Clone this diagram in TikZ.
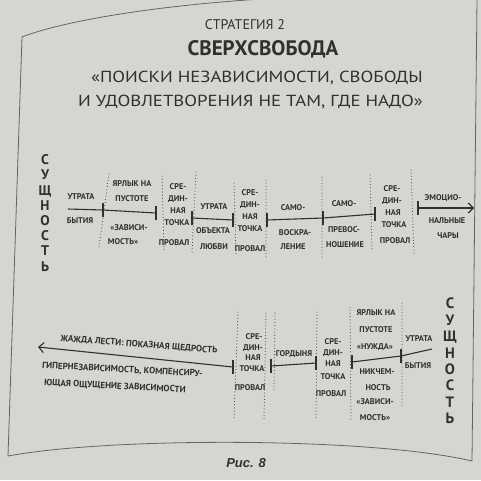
\documentclass[tikz,border=0pt]{standalone}
\usepackage{fontspec}
\setmainfont{PT Sans}
\setsansfont{PT Sans}
\newfontfamily\captfont{Liberation Sans}
\newfontfamily\quotefont{PT Sans}[FakeStretch=1.17]
\usetikzlibrary{arrows.meta}
\definecolor{ink}{RGB}{48,48,48}
\definecolor{paper}{RGB}{214,213,208}
\definecolor{edge}{RGB}{100,100,100}
\begin{document}
\begin{tikzpicture}[x=1pt,y=-1pt,
  lb/.style={font=\bfseries\fontsize{8.3}{8.3}\selectfont, text=ink, inner sep=0pt, text height=5.8pt, text depth=0pt},
  lbig/.style={font=\bfseries\fontsize{9}{9}\selectfont, text=ink, inner sep=0pt, text height=6.4pt, text depth=0pt},
  quote/.style={font=\quotefont\fontsize{16}{16}\selectfont, text=ink, inner sep=0pt, text height=11.2pt, text depth=0pt},
  dots/.style={draw=ink, line width=1pt, line cap=round, dash pattern=on 0pt off 3.2pt},
  tl/.style={draw=ink, line width=1.1pt},
  essence/.style={font=\bfseries\fontsize{14}{15.2}\selectfont, text=ink, align=center, inner sep=0pt},
  tipstyle/.style={-{Straight Barb[length=5pt,width=10pt]}}
]
\useasboundingbox (0,0) rectangle (481,480);
\fill[paper] (0,0) rectangle (481,480);
% page frame
\draw[edge, line width=0.8pt] (262,-1) .. controls (150,6) and (60,22) .. (22,37) -- (8,456)
   .. controls (110,437) and (370,437) .. (472,461) -- (477,-1);

% titles
\node[text=ink, font=\fontsize{14}{14}\selectfont, inner sep=0pt] (t1) at (245,25) {СТРАТЕГИЯ 2};
\node[text=ink, font=\bfseries\fontsize{21}{21}\selectfont, inner sep=0pt] (t2) at (263,49) {СВЕРХСВОБОДА};
\node[quote, anchor=east] (t3) at (423,77) {«ПОИСКИ НЕЗАВИСИМОСТИ, СВОБОДЫ};
\node[quote, anchor=east] (t4) at (423,101) {И УДОВЛЕТВОРЕНИЯ НЕ ТАМ, ГДЕ НАДО»};

% essence columns
\node[essence] (essL) at (45,213) {С\\У\\Щ\\Н\\О\\С\\Т\\Ь};
\node[essence, font=\bfseries\fontsize{15}{16.4}\selectfont] (essR) at (450,361) {С\\У\\Щ\\Н\\О\\С\\Т\\Ь};

% ---------- top row timeline ----------
\coordinate (a0) at (68,209);
\coordinate (a1) at (103,210);
\coordinate (a2) at (156,213);
\coordinate (a3) at (192,218);
\coordinate (a4) at (233,220);
\coordinate (a5) at (267,220);
\coordinate (a6) at (323,218);
\coordinate (a7) at (375,214);
\coordinate (a8) at (418,208);
\coordinate (a9) at (474,208);
\draw[tl] (a0) -- (a1) -- (a2);
\draw[tl] (a3) -- (a4);
\draw[tl] (a5) -- (a6) -- (a7);
\draw[tl, tipstyle] (a8) -- (a9);
\foreach \p in {a1,a2,a3,a4,a5,a6,a7,a8}
  \draw[tl] (\p) ++(0,-7) -- ++(0,14);

% top dotted separators
\draw[dots] (109,174) -- (99,247);
\draw[dots] (162,176) -- (164,250);
\draw[dots] (196,172) -- (192,252);
\draw[dots] (234,183) -- (236,255);
\draw[dots] (266,180) -- (266,258);
\draw[dots] (322,177) -- (322,258);
\draw[dots] (370,175) -- (372,250);
\draw[dots] (411,170) -- (414,255);

% top labels
\node[lb] (A1) at (81,197) {УТРАТА};
\node[lb] (A2) at (80,221) {БЫТИЯ};
\node[lb] (B1) at (132,184) {ЯРЛЫК НА};
\node[lb] (B2) at (132,199) {ПУСТОТЕ};
\node[lb] (B3) at (129,228) {«ЗАВИСИ-};
\node[lb] (B4) at (123,242) {МОСТЬ»};
\node[lb] (C1) at (178,187) {СРЕ-};
\node[lb] (C2) at (178,199) {ДИН-};
\node[lb] (C3) at (178,211) {НАЯ};
\node[lb] (C4) at (177,223) {ТОЧКА};
\node[lb] (C5) at (174,243) {ПРОВАЛ};
\node[lb] (D1) at (214,207) {УТРАТА};
\node[lb] (D2) at (213,231) {ОБЪЕКТА};
\node[lb] (D3) at (214,247) {ЛЮБВИ};
\node[lb] (E1) at (250,193) {СРЕ-};
\node[lb] (E2) at (250,205) {ДИН-};
\node[lb] (E3) at (250,217) {НАЯ};
\node[lb] (E4) at (250,229) {ТОЧКА};
\node[lb] (E5) at (250,249) {ПРОВАЛ};
\node[lb] (F1) at (293,208) {САМО-};
\node[lb] (F2) at (295,233) {ВОСКРА-};
\node[lb] (F3) at (293,247) {ЛЕНИЕ};
\node[lb] (G1) at (344,204) {САМО-};
\node[lb] (G2) at (344,230) {ПРЕВОС-};
\node[lb] (G3) at (345,245) {НОШЕНИЕ};
\node[lb] (H1) at (392,189) {СРЕ-};
\node[lb] (H2) at (392,201) {ДИН-};
\node[lb] (H3) at (393,213) {НАЯ};
\node[lb] (H4) at (394,225) {ТОЧКА};
\node[lb] (H5) at (395,241) {ПРОВАЛ};
\node[lb] (I1) at (443,198) {ЭМОЦИО-};
\node[lb] (I2) at (447,221) {НАЛЬНЫЕ};
\node[lb] (I3) at (448,236) {ЧАРЫ};

% ---------- bottom row timeline ----------
\coordinate (b0) at (233,367);
\coordinate (bL) at (38,347);
\coordinate (b1) at (271,366);
\coordinate (b2) at (316,363);
\coordinate (b3) at (352,362);
\coordinate (b4) at (401,356);
\coordinate (b5) at (432,349);
\draw[tl, tipstyle] (b0) -- (bL);
\draw[tl] (b1) -- (b2);
\draw[tl] (b3) -- (b4) -- (b5);
\foreach \p in {b0,b1,b2,b3,b4}
  \draw[tl] (\p) ++(0,-7) -- ++(0,14);

% bottom dotted separators
\draw[dots] (238,312) -- (234,418);
\draw[dots] (266,313) -- (264,420);
\draw[dots] (275,313) -- (274,390);
\draw[dots] (317,312) -- (316,420);
\draw[dots] (350,307) -- (351,420);
\draw[dots] (402,303) -- (402,408);

% bottom labels
\node[lbig, rotate=-4.5] (J0) at (139,344) {ЖАЖДА ЛЕСТИ: ПОКАЗНАЯ ЩЕДРОСТЬ};
\node[lbig, anchor=west, rotate=-3] (J01) at (42,365) {ГИПЕРНЕЗАВИСИМОСТЬ, КОМПЕНСИРУ-};
\node[lbig, anchor=west, rotate=-3] (J02) at (44,382) {ЮЩАЯ ОЩУЩЕНИЕ ЗАВИСИМОСТИ};
\node[lb] (J1) at (254,337) {СРЕ-};
\node[lb] (J2) at (253,348) {ДИН-};
\node[lb] (J3) at (253,358) {НАЯ};
\node[lb] (J4) at (252,369) {ТОЧКА};
\node[lb] (J5) at (250,388) {ПРОВАЛ};
\node[lb] (K0) at (294,354) {ГОРДЫНЯ};
\node[lb] (K1) at (333,342) {СРЕ-};
\node[lb] (K2) at (333,353) {ДИН-};
\node[lb] (K3) at (333,364) {НАЯ};
\node[lb] (K4) at (333,377) {ТОЧКА};
\node[lb] (K5) at (331,394) {ПРОВАЛ};
\node[lb] (L1) at (376,313) {ЯРЛЫК НА};
\node[lb] (L2) at (376,330) {ПУСТОТЕ};
\node[lb] (L3) at (375,347) {«НУЖДА»};
\node[lb] (L4) at (377,372) {НИКЧЕМ-};
\node[lb] (L5) at (378,388) {НОСТЬ};
\node[lb] (L6) at (375,402) {«ЗАВИСИ-};
\node[lb] (L7) at (375,418) {МОСТЬ»};
\node[lb] (M1) at (419,339) {УТРАТА};
\node[lb] (M2) at (418,366) {БЫТИЯ};

% caption
\node[text=ink, font=\captfont\bfseries\itshape\fontsize{13}{13}\selectfont, inner sep=0pt] (cap) at (246,463) {Рис. 8};
\end{tikzpicture}
\end{document}
